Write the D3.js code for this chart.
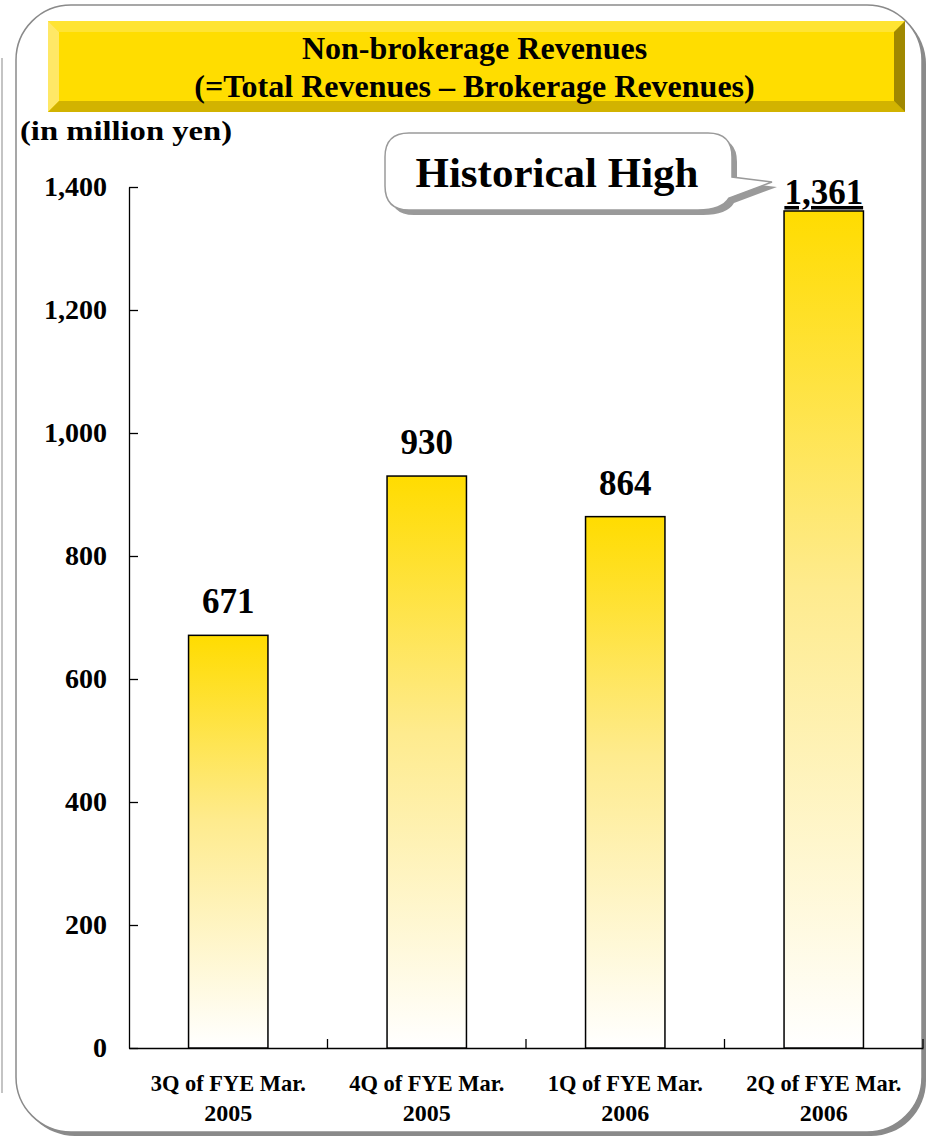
<!DOCTYPE html>
<html>
<head>
<meta charset="utf-8">
<script src="https://cdn.jsdelivr.net/npm/d3@7"></script>
<style>
  body { margin: 0; background: #fff; }
  text { font-family: "Liberation Serif", "Times New Roman", serif; font-weight: bold; fill: #000; }
</style>
</head>
<body>
<div id="chart"></div>
<script>
// chart data
const categories = ["3Q of FYE Mar. 2005", "4Q of FYE Mar. 2005", "1Q of FYE Mar. 2006", "2Q of FYE Mar. 2006"];
const revenues = [671, 930, 864, 1361];
const yTicks = [0, 200, 400, 600, 800, 1000, 1200, 1400];
const titleLines = ["Non-brokerage Revenues", "(=Total Revenues \u2013 Brokerage Revenues)"];
const unitLabel = "(in million yen)";
const calloutText = "Historical High";

let width = 930;
let height = 1139;

let svg = d3.select("#chart")
    .append("svg")
    .attr("width", width)
    .attr("height", height);

// gradient for the bars
let defs = svg.append("defs");
let grad = defs.append("linearGradient")
    .attr("id", "barGrad")
    .attr("x1", 0).attr("y1", 0).attr("x2", 0).attr("y2", 1);
grad.append("stop").attr("offset", "0%").attr("stop-color", "#FFDC00");
grad.append("stop").attr("offset", "45%").attr("stop-color", "#FEEB8E");
grad.append("stop").attr("offset", "100%").attr("stop-color", "#FFFFFF");

// faint line at the far left
svg.append("line")
    .attr("x1", 2).attr("x2", 2).attr("y1", 58).attr("y2", 1093)
    .attr("stroke", "#c4c4c4").attr("stroke-width", 2);

// outer frame with shadow
svg.append("rect")
    .attr("x", 20).attr("y", 9).attr("width", 906).attr("height", 1127)
    .attr("rx", 55).attr("fill", "#8a8a8a");
svg.append("rect")
    .attr("x", 16).attr("y", 5).attr("width", 906).attr("height", 1127)
    .attr("rx", 55).attr("fill", "#fff")
    .attr("stroke", "#8a8a8a").attr("stroke-width", 1.5);

// bevelled title banner
let bx = 48, by = 21, bw = 857, bh = 91, bv = 11;
let banner = svg.append("g");
banner.append("rect").attr("x", bx).attr("y", by).attr("width", bw).attr("height", bh).attr("fill", "#FFDD00");
banner.append("polygon") // top
    .attr("points", [[bx, by], [bx + bw, by], [bx + bw - bv, by + bv], [bx + bv, by + bv]].join(" "))
    .attr("fill", "#FFE433");
banner.append("polygon") // left
    .attr("points", [[bx, by], [bx + bv, by + bv], [bx + bv, by + bh - bv], [bx, by + bh]].join(" "))
    .attr("fill", "#FFE866");
banner.append("polygon") // bottom
    .attr("points", [[bx, by + bh], [bx + bv, by + bh - bv], [bx + bw - bv, by + bh - bv], [bx + bw, by + bh]].join(" "))
    .attr("fill", "#D2B300");
banner.append("polygon") // right
    .attr("points", [[bx + bw, by], [bx + bw, by + bh], [bx + bw - bv, by + bh - bv], [bx + bw - bv, by + bv]].join(" "))
    .attr("fill", "#A08800");

banner.selectAll("text.title")
    .data(titleLines)
    .enter()
    .append("text")
    .attr("class", "title")
    .attr("x", bx + bw / 2 - 2)
    .attr("y", (d, i) => 59 + i * 38)
    .attr("text-anchor", "middle")
    .style("font-size", "32px")
    .text(d => d);

// unit label
svg.append("text")
    .attr("x", 20).attr("y", 140)
    .style("font-size", "27px")
    .attr("textLength", 212)
    .attr("lengthAdjust", "spacingAndGlyphs")
    .text(unitLabel);

// scales
let y = d3.scaleLinear().domain([0, 1400]).range([1048, 187]);
let x = d3.scaleBand().domain(categories).range([129, 923]).paddingInner(0.6).paddingOuter(0.3);

// y axis (ticks pointing inward)
let yAxis = svg.append("g")
    .attr("transform", "translate(129,0)")
    .call(d3.axisLeft(y).tickValues(yTicks).tickFormat(d3.format(",")).tickSizeInner(-9).tickSizeOuter(0).tickPadding(22));
yAxis.select(".domain").attr("stroke", "#000").attr("stroke-width", 1.3);
yAxis.selectAll(".tick line").attr("stroke", "#000").attr("stroke-width", 1.3);
yAxis.selectAll(".tick text")
    .attr("fill", "#000")
    .style("font-family", "'Liberation Serif', 'Times New Roman', serif")
    .style("font-weight", "bold")
    .style("font-size", "28px");

// x axis line + boundary ticks
let xAxis = svg.append("g")
    .attr("transform", "translate(0,1048)")
    .call(d3.axisBottom(x).tickSize(0).tickFormat(""));
xAxis.select(".domain").attr("stroke", "#000").attr("stroke-width", 1.3);
xAxis.selectAll(".tick").remove();
xAxis.selectAll("line.sep")
    .data(d3.range(1, categories.length + 1))
    .enter()
    .append("line")
    .attr("class", "sep")
    .attr("x1", i => x.range()[0] + i * x.step())
    .attr("x2", i => x.range()[0] + i * x.step())
    .attr("y1", 0).attr("y2", -9)
    .attr("stroke", "#000").attr("stroke-width", 1.3);

// bars
svg.selectAll("rect.bar")
    .data(revenues)
    .enter()
    .append("rect")
    .attr("class", "bar")
    .attr("x", (d, i) => x(categories[i]))
    .attr("width", x.bandwidth())
    .attr("y", d => y(d))
    .attr("height", d => y(0) - y(d))
    .attr("fill", "url(#barGrad)")
    .attr("stroke", "#000")
    .attr("stroke-width", 1.5);

// value labels
svg.selectAll("text.val")
    .data(revenues)
    .enter()
    .append("text")
    .attr("class", "val")
    .attr("x", (d, i) => x(categories[i]) + x.bandwidth() / 2)
    .attr("y", (d, i) => y(d) - (i === revenues.length - 1 ? 7 : 22))
    .attr("text-anchor", "middle")
    .style("font-size", "35px")
    .style("text-decoration", (d, i) => i === revenues.length - 1 ? "underline" : null)
    .text(d => d3.format(",")(d));

// category labels (two lines)
let catG = svg.selectAll("g.cat")
    .data(categories)
    .enter()
    .append("g")
    .attr("class", "cat")
    .attr("transform", d => "translate(" + (x(d) + x.bandwidth() / 2) + ",0)");
catG.append("text")
    .attr("y", 1091)
    .attr("text-anchor", "middle")
    .style("font-size", "23px")
    .attr("textLength", 155)
    .attr("lengthAdjust", "spacingAndGlyphs")
    .text(d => d.slice(0, d.lastIndexOf(" ")));
catG.append("text")
    .attr("y", 1121)
    .attr("text-anchor", "middle")
    .style("font-size", "24px")
    .text(d => d.slice(d.lastIndexOf(" ") + 1));

// callout "Historical High"
function calloutPath(dx, dy) {
    let p = d3.path();
    let l = 385 + dx, t = 133 + dy, r = 732 + dx, b = 210 + dy, rad = 24;
    p.moveTo(l + rad, t);
    p.lineTo(r - rad, t);
    p.quadraticCurveTo(r, t, r, t + rad);
    p.lineTo(r, t + 44);
    p.lineTo(r + 40, t + 49);
    p.lineTo(r - 3, t + 65);
    p.quadraticCurveTo(r - 10, b, r - rad - 10, b);
    p.lineTo(l + rad, b);
    p.quadraticCurveTo(l, b, l, b - rad);
    p.lineTo(l, t + rad);
    p.quadraticCurveTo(l, t, l + rad, t);
    p.closePath();
    return p.toString();
}
svg.append("path").attr("d", calloutPath(5, 5)).attr("fill", "#9a9a9a");
svg.append("path").attr("d", calloutPath(0, 0))
    .attr("fill", "#fff").attr("stroke", "#9a9a9a").attr("stroke-width", 1.5);
svg.append("text")
    .attr("x", 557).attr("y", 187)
    .attr("text-anchor", "middle")
    .style("font-size", "43px")
    .text(calloutText);
</script>
</body>
</html>
